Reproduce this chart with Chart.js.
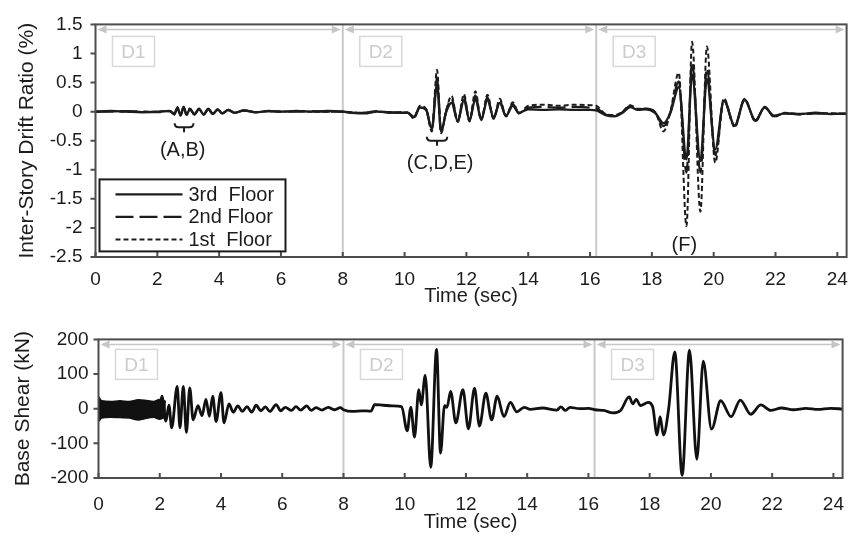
<!DOCTYPE html>
<html>
<head>
<meta charset="utf-8">
<script src="https://cdn.jsdelivr.net/npm/chart.js@4.4.1/dist/chart.umd.min.js"></script>
<style>
  html, body { margin: 0; padding: 0; background: #fff; }
  #wrap { position: relative; width: 859px; height: 536px; }
  #driftChart { position: absolute; left: 0; top: 0; }
  #shearChart { position: absolute; left: 0; top: 318px; }
</style>
</head>
<body>
<div id="wrap">
  <canvas id="driftChart" width="859" height="318"></canvas>
  <canvas id="shearChart" width="859" height="218"></canvas>
</div>
<script>
// Ejes
const xTicks = [0, 2, 4, 6, 8, 10, 12, 14, 16, 18, 20, 22, 24];
const driftTicks = [-2.5, -2, -1.5, -1, -0.5, 0, 0.5, 1, 1.5];
const shearTicks = [-200, -100, 0, 100, 200];
const phaseBounds = [0, 8, 16.2, 24.3];
const phaseNames = ['D1', 'D2', 'D3'];

// Deriva de entrepiso (%)
const driftTime = [
  0, 0.5, 1.0, 1.5, 2.0, 2.4, 2.55, 2.65, 2.75, 2.85, 2.95, 3.05, 3.2, 3.35, 3.5,
  3.65, 3.8, 3.95, 4.1, 4.3, 4.5, 4.8, 5.2, 5.6, 6.0, 6.5, 7.0, 7.5, 8.0,
  8.3, 8.7, 9.1, 9.5, 9.9, 10.1, 10.3, 10.5, 10.7, 10.88, 11.05, 11.18, 11.35, 11.52, 11.72,
  11.92, 12.1, 12.29, 12.48, 12.68, 12.88, 13.08, 13.28, 13.5, 13.7, 14.0, 14.5, 15.0, 15.5, 16.0, 16.2,
  16.5, 16.8, 17.05, 17.3, 17.55, 17.8, 18.1, 18.38, 18.6, 18.87, 19.12, 19.3, 19.57, 19.78, 20.05,
  20.33, 20.68, 21.0, 21.35, 21.65, 21.95, 22.3, 22.8, 23.3, 23.8, 24.3
];
const drift3rd = [
  0, 0.01, 0, -0.01, 0, 0.01, -0.04, 0.06, -0.06, 0.07, -0.05, 0.04, -0.04, 0.04, -0.05,
  0.04, -0.04, 0.04, -0.03, 0.03, -0.02, 0.02, -0.01, 0.01, 0, 0.01, 0, 0.01, 0,
  -0.02, -0.03, 0, -0.01, -0.02, -0.02, -0.09, 0.07, 0.03, -0.3, 0.47, -0.33, 0, 0.15, -0.16,
  0.2, -0.15, 0.22, -0.13, 0.2, -0.1, 0.15, -0.07, 0.1, -0.02, 0.04, 0.03, 0.04, 0.03, 0.03, 0.02,
  -0.06, -0.08, -0.02, 0.08, 0.03, 0.04, -0.02, -0.2, -0.02, 0.42, -0.82, 0.64, -0.85, 0.56, -0.65,
  0.19, -0.24, 0.2, -0.15, 0.07, -0.07, -0.03, -0.04, -0.02, -0.04, -0.03
];
const drift2nd = [
  0, 0, 0.01, 0, -0.01, 0.01, -0.05, 0.07, -0.07, 0.08, -0.06, 0.05, -0.05, 0.05, -0.05,
  0.05, -0.04, 0.04, -0.03, 0.03, -0.02, 0.02, -0.01, 0.01, 0, 0, 0.01, 0, 0,
  -0.02, -0.02, 0.01, -0.02, -0.01, -0.02, -0.1, 0.08, 0.03, -0.32, 0.58, -0.35, 0.02, 0.22, -0.17,
  0.26, -0.16, 0.28, -0.14, 0.25, -0.12, 0.18, -0.08, 0.13, -0.03, 0.07, 0.08, 0.07, 0.08, 0.07, 0.06,
  -0.05, -0.07, -0.01, 0.1, 0.04, 0.05, -0.01, -0.25, -0.01, 0.52, -1.05, 0.85, -1.05, 0.75, -0.75,
  0.2, -0.25, 0.21, -0.16, 0.08, -0.08, -0.03, -0.05, -0.03, -0.04, -0.04
];
const drift1st = [
  0, 0.01, 0, 0, 0, 0.01, -0.05, 0.08, -0.06, 0.08, -0.06, 0.05, -0.05, 0.05, -0.04,
  0.04, -0.04, 0.03, -0.03, 0.02, -0.02, 0.02, -0.01, 0.01, 0, 0.01, 0, 0, 0,
  -0.01, -0.02, 0, -0.01, -0.02, -0.01, -0.12, 0.1, 0.04, -0.34, 0.72, -0.37, 0.03, 0.27, -0.18,
  0.3, -0.17, 0.35, -0.15, 0.29, -0.12, 0.22, -0.08, 0.16, -0.03, 0.1, 0.12, 0.1, 0.12, 0.11, 0.1,
  -0.04, -0.06, 0, 0.11, 0.05, 0.05, 0, -0.34, 0, 0.67, -1.97, 1.2, -1.72, 1.12, -0.88,
  0.23, -0.27, 0.22, -0.17, 0.08, -0.09, -0.02, -0.04, -0.03, -0.03, -0.04
];

// Cortante basal (kN): banda de alta frecuencia al inicio
const bandTime = [0, 0.1, 0.4, 0.7, 1.0, 1.3, 1.5, 1.8, 2.0, 2.2];
const bandUpper = [34, 22, 20, 22, 20, 25, 24, 20, 26, 20];
const bandLower = [-36, -26, -24, -25, -26, -32, -28, -24, -30, -22];
const shearTime = [
  2.0, 2.07, 2.2, 2.3, 2.39, 2.57, 2.66, 2.77, 2.87, 2.98, 3.09, 3.25, 3.38, 3.51, 3.62,
  3.73, 3.84, 4.0, 4.1, 4.26, 4.4, 4.55, 4.7, 4.85, 5.0, 5.15, 5.3, 5.45, 5.6, 5.8,
  5.95, 6.1, 6.3, 6.45, 6.6, 6.8, 6.95, 7.1, 7.3, 7.5, 7.7, 7.9, 8.0, 8.3, 8.6,
  8.9, 9.02, 9.3, 9.6, 9.9, 10.08, 10.2, 10.32, 10.46, 10.54, 10.67, 10.85, 11.04, 11.17, 11.3,
  11.38, 11.5, 11.67, 11.9, 12.08, 12.28, 12.44, 12.65, 12.84, 13.02, 13.24, 13.45, 13.66, 13.9, 14.1,
  14.5, 14.97, 15.1, 15.25, 15.4, 15.7, 16.0, 16.23, 16.5, 16.8, 17.05, 17.33, 17.45, 17.56, 17.7,
  17.95, 18.1, 18.24, 18.34, 18.45, 18.62, 18.82, 19.06, 19.3, 19.54, 19.75, 20.02, 20.32, 20.66, 20.96,
  21.3, 21.63, 21.95, 22.3, 22.7, 23.1, 23.5, 23.9, 24.3
];
const shearValue = [
  0, 36, -36, 10, -55, 64, -55, 64, -68, 60, -32, 9, -20, 27, -22,
  36, -37, 46, -41, 14, -10, 8, -8, 6, -10, 10, -6, 5, -8, 12,
  -6, 4, -5, 6, -4, 8, -5, 3, -4, 4, -3, 3, -3, -8, -6,
  -7, 12, 10, 8, 6, -64, 4, -82, 55, 11, 96, -169, 171, -128, 9,
  4, 50, -41, 55, -58, 59, -50, 45, -32, 36, -23, 18, -9, 4, -2,
  2, -4, 5, -5, 4, 0, 1, -3, -5, -12, -5, 34, 14, 27, 9,
  18, 5, -76, -23, -76, 0, 164, -192, 169, -146, 137, -59, 23, -23, 25,
  -16, 11, -5, 2, -3, 1, -2, 1, -1
];

const fontFam = '"Liberation Sans", Arial, sans-serif';
const ink = '#1c1c1c';
const pts = (xs, ys) => xs.map((t, i) => ({ x: t, y: ys[i] }));

// divisiones D1-D3, marco y marcas de escala
function phasePlugin(boxTop) {
  return {
    id: 'phases',
    beforeDatasetsDraw(chart) {
      const { ctx, chartArea: a, scales: { x } } = chart;
      ctx.save();
      ctx.strokeStyle = '#c9c9c9';
      ctx.lineWidth = 2;
      phaseBounds.slice(1, -1).forEach(t => {
        const px = x.getPixelForValue(t);
        ctx.beginPath(); ctx.moveTo(px, a.top); ctx.lineTo(px, a.bottom); ctx.stroke();
      });
      const ay = a.top + 5;
      phaseNames.forEach((name, i) => {
        const x1 = x.getPixelForValue(phaseBounds[i]) + 2;
        const x2 = x.getPixelForValue(phaseBounds[i + 1]) - 2;
        ctx.strokeStyle = '#c6c6c6'; ctx.lineWidth = 1.5;
        ctx.beginPath(); ctx.moveTo(x1 + 6, ay); ctx.lineTo(x2 - 6, ay); ctx.stroke();
        ctx.fillStyle = '#c6c6c6';
        ctx.beginPath(); ctx.moveTo(x1, ay); ctx.lineTo(x1 + 9, ay - 4); ctx.lineTo(x1 + 9, ay + 4); ctx.closePath(); ctx.fill();
        ctx.beginPath(); ctx.moveTo(x2, ay); ctx.lineTo(x2 - 9, ay - 4); ctx.lineTo(x2 - 9, ay + 4); ctx.closePath(); ctx.fill();
        const bx = x1 + 15;
        ctx.strokeStyle = '#d8d8d8'; ctx.lineWidth = 1.5;
        ctx.strokeRect(bx, a.top + boxTop, 42, 30);
        ctx.fillStyle = '#cccccc';
        ctx.font = '19px ' + fontFam;
        ctx.textAlign = 'center'; ctx.textBaseline = 'middle';
        ctx.fillText(name, bx + 21, a.top + boxTop + 16);
      });
      ctx.restore();
    },
    afterDatasetsDraw(chart) {
      const { ctx, chartArea: a, scales: { x, y } } = chart;
      ctx.save();
      ctx.strokeStyle = '#4d4d4d';
      ctx.lineWidth = 2;
      ctx.strokeRect(a.left, a.top, a.right - a.left, a.bottom - a.top);
      ctx.beginPath();
      xTicks.forEach(t => {
        const px = x.getPixelForValue(t);
        ctx.moveTo(px, a.bottom); ctx.lineTo(px, a.bottom - 5);
      });
      y.ticks.forEach(tk => {
        const py = y.getPixelForValue(tk.value);
        ctx.moveTo(a.left - 5, py); ctx.lineTo(a.left, py);
      });
      ctx.stroke();
      ctx.restore();
    }
  };
}

// leyenda y anotaciones del panel superior
const noteText = ['(A,B)', '(C,D,E)', '(F)'];
const noteAt = [[2.82, -0.66], [11.15, -0.89], [19.05, -2.31]];
const braceSpan = [[2.56, 3.17, -0.27], [10.72, 11.38, -0.5]];

const driftNotes = {
  id: 'driftNotes',
  afterDatasetsDraw(chart) {
    const { ctx, chartArea: a, scales: { x, y } } = chart;
    ctx.save();
    ctx.fillStyle = ink;
    ctx.strokeStyle = ink;
    ctx.font = '20px ' + fontFam;
    ctx.textAlign = 'center'; ctx.textBaseline = 'middle';
    noteText.forEach((s, i) => ctx.fillText(s, x.getPixelForValue(noteAt[i][0]), y.getPixelForValue(noteAt[i][1])));
    ctx.lineWidth = 2;
    braceSpan.forEach(([t1, t2, v]) => {
      const x1 = x.getPixelForValue(t1), x2 = x.getPixelForValue(t2), py = y.getPixelForValue(v);
      const xc = (x1 + x2) / 2;
      ctx.beginPath();
      ctx.moveTo(x1, py - 4); ctx.quadraticCurveTo(x1, py, x1 + 4, py);
      ctx.lineTo(x2 - 4, py); ctx.quadraticCurveTo(x2, py, x2, py - 4);
      ctx.moveTo(xc, py); ctx.lineTo(xc, py + 5);
      ctx.stroke();
    });
    // leyenda
    const lx = a.left + 4, ly = a.top + 155;
    ctx.fillStyle = '#fff';
    ctx.fillRect(lx, ly, 186, 72);
    ctx.lineWidth = 2;
    ctx.strokeRect(lx, ly, 186, 72);
    ctx.textAlign = 'left';
    chart.data.datasets.forEach((ds, i) => {
      const ry = ly + 15 + i * 22.5;
      ctx.setLineDash(ds.borderDash || []);
      ctx.lineWidth = ds.borderWidth;
      ctx.beginPath(); ctx.moveTo(lx + 16, ry); ctx.lineTo(lx + 83, ry); ctx.stroke();
      ctx.setLineDash([]);
      ctx.fillStyle = ink;
      ctx.fillText(ds.label, lx + 89, ry + 1);
    });
    ctx.restore();
  }
};

function baseScales(yMin, yMax, yTickVals, yTitle, yWidth, yLabelPad, yTitlePad, xHeight, xLabelPad, xTitlePad) {
  return {
    x: {
      type: 'linear', min: 0, max: 24.3,
      afterBuildTicks: s => { s.ticks = xTicks.map(v => ({ value: v })); },
      afterFit: s => { s.height = xHeight; },
      grid: { display: false, drawTicks: false }, border: { display: false },
      ticks: { color: ink, padding: xLabelPad, maxRotation: 0, autoSkip: false, font: { family: fontFam, size: 19 } },
      title: { display: true, text: 'Time (sec)', color: ink, padding: { top: 0, bottom: xTitlePad }, font: { family: fontFam, size: 20, lineHeight: 1.2 } }
    },
    y: {
      min: yMin, max: yMax,
      afterBuildTicks: s => { s.ticks = yTickVals.map(v => ({ value: v })); },
      afterFit: s => { s.width = yWidth; },
      grid: { display: false, drawTicks: false }, border: { display: false },
      ticks: { color: ink, padding: yLabelPad, callback: v => String(v), font: { family: fontFam, size: 19 } },
      title: { display: true, text: yTitle, color: ink, padding: { top: yTitlePad, bottom: 0 }, font: { family: fontFam, size: 21, lineHeight: 1.2 } }
    }
  };
}

new Chart(document.getElementById('driftChart'), {
  type: 'line',
  data: {
    datasets: [
      { label: '3rd  Floor', data: pts(driftTime, drift3rd), borderColor: ink, borderWidth: 2.4 },
      { label: '2nd Floor', data: pts(driftTime, drift2nd), borderColor: ink, borderWidth: 2.2, borderDash: [18, 6] },
      { label: '1st  Floor', data: pts(driftTime, drift1st), borderColor: ink, borderWidth: 2, borderDash: [5, 3] }
    ]
  },
  options: {
    responsive: false, animation: false,
    layout: { padding: { top: 20, right: 9, left: 0, bottom: 0 } },
    elements: { point: { radius: 0 }, line: { cubicInterpolationMode: 'monotone', fill: false } },
    plugins: { legend: { display: false }, tooltip: { enabled: false } },
    scales: baseScales(-2.5, 1.5, driftTicks, 'Inter-Story Drift Ratio (%)', 95.5, 13, 15, 61, 11, 10)
  },
  plugins: [phasePlugin(12), driftNotes]
});

new Chart(document.getElementById('shearChart'), {
  type: 'line',
  data: {
    datasets: [
      { label: 'band+', data: pts(bandTime, bandUpper), borderColor: '#111', borderWidth: 2, fill: false },
      { label: 'band-', data: pts(bandTime, bandLower), borderColor: '#111', borderWidth: 2, fill: '-1', backgroundColor: '#111' },
      { label: 'Base Shear', data: pts(shearTime, shearValue), borderColor: '#111', borderWidth: 2.8, fill: false }
    ]
  },
  options: {
    responsive: false, animation: false,
    layout: { padding: { top: 14, right: 3, left: 0, bottom: 0 } },
    elements: { point: { radius: 0 }, line: { cubicInterpolationMode: 'monotone' } },
    plugins: { legend: { display: false }, tooltip: { enabled: false } },
    scales: baseScales(-200, 200, shearTicks, 'Base Shear (kN)', 98.5, 10, 11, 58, 15, 2)
  },
  plugins: [phasePlugin(10)]
});
</script>
</body>
</html>
